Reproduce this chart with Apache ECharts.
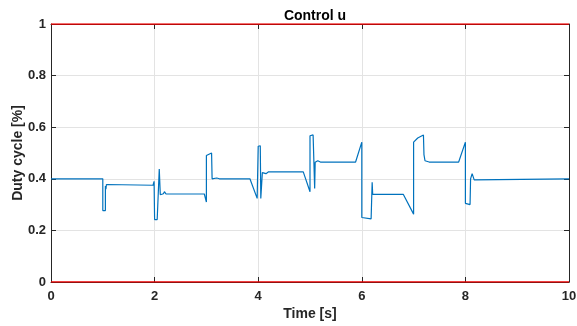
<!DOCTYPE html>
<html>
<head>
<meta charset="utf-8">
<script src="https://cdn.jsdelivr.net/npm/echarts@6/dist/echarts.min.js"></script>
<style>html,body{margin:0;padding:0;background:#fff}#c{width:577px;height:326px}</style>
</head>
<body>
<div id="c"></div>
<script>
// Time samples [s] and control signal (duty cycle)
var time = [0, 1.0, 1.0, 1.05, 1.05, 1.06, 1.07, 1.1, 1.97, 1.99, 2.0, 2.05, 2.09, 2.1, 2.11, 2.17, 2.19, 2.22, 2.96, 3.0, 3.0, 3.1, 3.11, 3.2, 3.25, 3.84, 3.98, 4.0, 4.04, 4.05, 4.08, 4.15, 4.2, 4.87, 5.0, 5.0, 5.06, 5.09, 5.1, 5.15, 5.2, 5.88, 6.0, 6.0, 6.18, 6.2, 6.21, 6.35, 6.38, 6.42, 6.8, 7.0, 7.0, 7.08, 7.19, 7.2, 7.22, 7.25, 7.3, 7.87, 8.0, 8.0, 8.09, 8.1, 8.13, 8.17, 8.2, 10];
var control = [0.4, 0.4, 0.277, 0.277, 0.372, 0.36, 0.378, 0.375, 0.375, 0.39, 0.242, 0.242, 0.438, 0.438, 0.338, 0.342, 0.35, 0.341, 0.341, 0.31, 0.49, 0.5, 0.4, 0.403, 0.4, 0.4, 0.324, 0.526, 0.528, 0.324, 0.424, 0.42, 0.427, 0.427, 0.35, 0.567, 0.57, 0.362, 0.464, 0.47, 0.465, 0.465, 0.542, 0.25, 0.245, 0.387, 0.34, 0.34, 0.336, 0.34, 0.34, 0.263, 0.542, 0.558, 0.57, 0.494, 0.47, 0.464, 0.465, 0.465, 0.542, 0.305, 0.30, 0.4, 0.42, 0.396, 0.4, 0.4];
var limitTime = [0, 10];
var lowerLimit = [0, 0];
var upperLimit = [1, 1];
var xTicks = [0, 2, 4, 6, 8, 10];
var yTicks = [0, 0.2, 0.4, 0.6, 0.8, 1];

function pairs(xs, ys){ return xs.map(function(x,i){ return [x, ys[i]]; }); }

var font = 'Liberation Sans, Arial, Helvetica, sans-serif';
var axisCol = '#262626';
var chart = echarts.init(document.getElementById('c'), null, {renderer:'canvas'});
chart.setOption({
  animation:false,
  backgroundColor:'#fff',
  title:{text:'Control u', left:310, textAlign:'center', top:4,
    textStyle:{fontFamily:font, fontSize:14, fontWeight:'bold', color:'#000'}},
  grid:{left:51, right:8, top:24, bottom:44, containLabel:false, outerBoundsMode:'none'},
  xAxis:[{type:'value', min:0, max:10, interval:2,
    name:'Time [s]', nameLocation:'middle', nameGap:25, nameMoveOverlap:false,
    nameTextStyle:{fontFamily:font, fontSize:14, fontWeight:'bold', color:axisCol},
    axisLine:{show:true, onZero:false, lineStyle:{color:axisCol, width:1}},
    axisTick:{show:true, inside:true, length:5, lineStyle:{color:axisCol}},
    axisLabel:{fontFamily:font, fontSize:13, fontWeight:'bold', color:axisCol, margin:8,
      formatter:function(v){ return xTicks.indexOf(v)>=0 ? String(v) : ''; }},
    splitLine:{show:true, lineStyle:{color:'#e3e3e3', width:1}}},
   {type:'value', position:'top', min:0, max:10, interval:2,
    axisLine:{show:true, onZero:false, lineStyle:{color:axisCol}},
    axisTick:{show:true, inside:true, length:5, lineStyle:{color:axisCol}},
    axisLabel:{show:false}, splitLine:{show:false}}],
  yAxis:[{type:'value', min:0, max:1, interval:0.2,
    name:'Duty cycle [%]', nameLocation:'middle', nameGap:26, nameRotate:90, nameMoveOverlap:false,
    nameTextStyle:{fontFamily:font, fontSize:14, fontWeight:'bold', color:axisCol},
    axisLine:{show:true, onZero:false, lineStyle:{color:axisCol, width:1}},
    axisTick:{show:true, inside:true, length:5, lineStyle:{color:axisCol}},
    axisLabel:{fontFamily:font, fontSize:13, fontWeight:'bold', color:axisCol, margin:5,
      formatter:function(v){ var r=Math.round(v*10)/10; return (r===0||r===1)?String(r):r.toFixed(1); }},
    splitLine:{show:true, lineStyle:{color:'#e3e3e3', width:1}}},
   {type:'value', position:'right', min:0, max:1, interval:0.2,
    axisLine:{show:true, onZero:false, lineStyle:{color:axisCol}},
    axisTick:{show:true, inside:true, length:5, lineStyle:{color:axisCol}},
    axisLabel:{show:false}, splitLine:{show:false}}],
  series:[
    {type:'line', data:pairs(time, control), showSymbol:false, symbol:'none',
     lineStyle:{color:'#0072BD', width:1.2}, z:3},
    {type:'line', data:pairs(limitTime, lowerLimit), symbol:'none',
     lineStyle:{color:'#ee0000', width:1.6}, z:4},
    {type:'line', data:pairs(limitTime, upperLimit), symbol:'none',
     lineStyle:{color:'#ee0000', width:1.6}, z:4}
  ]
});
</script>
</body>
</html>
